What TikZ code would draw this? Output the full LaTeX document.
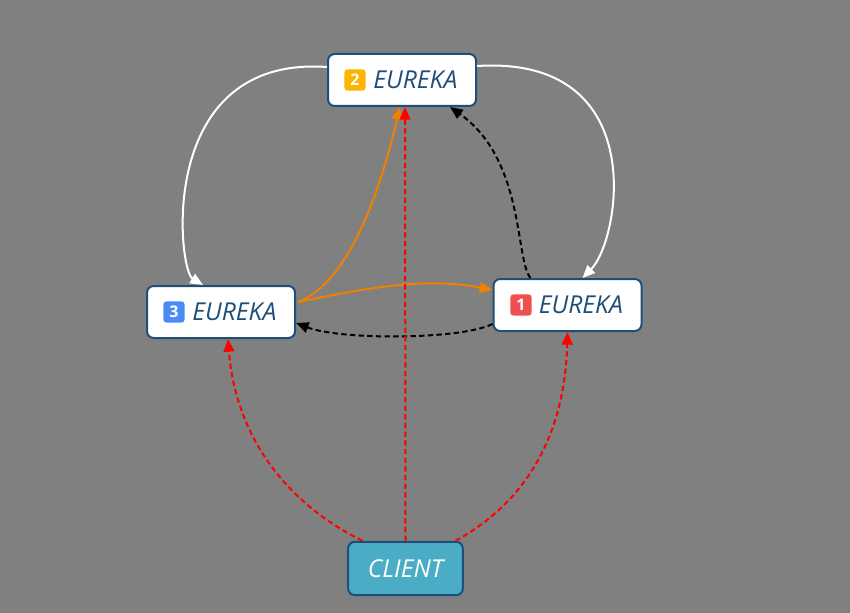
\documentclass[tikz,border=0pt]{standalone}
\usepackage{fontspec}
\setmainfont{Open Sans}
\usetikzlibrary{arrows.meta,calc}
\definecolor{bg}{HTML}{808080}
\definecolor{edge}{HTML}{1F4E79}
\definecolor{clientfill}{HTML}{4BACC6}
\definecolor{bOrange}{HTML}{FFB400}
\definecolor{bBlue}{HTML}{4B8BF5}
\definecolor{bRed}{HTML}{EE5050}
\definecolor{orangeline}{HTML}{F08000}
\tikzset{
  srv/.style={draw=edge, line width=1.5pt, fill=white, rounded corners=5pt,
    minimum width=111pt, minimum height=39pt, inner sep=0pt,
    font=\fontsize{18.5}{20}\selectfont\itshape, text=edge},
  cli/.style={srv, fill=clientfill, minimum width=86pt, minimum height=40pt, text=white},
  badge/.style={fill=#1, rounded corners=2.5pt, minimum size=16pt, inner sep=0pt,
    font=\fontsize{12}{12}\selectfont\bfseries, text=white},
  tip/.style={-{Triangle[length=9.5pt,width=8pt]}},
  wline/.style={tip, white, line width=1.5pt},
  oline/.style={tip, orangeline, line width=1.5pt},
  kline/.style={tip, black, line width=1.5pt, dash pattern=on 4pt off 2.5pt},
  rline/.style={tip, red, line width=1.5pt, dash pattern=on 4pt off 2.5pt},
}
\begin{document}
\begin{tikzpicture}[x=0.75pt,y=-0.75pt]
\fill[bg] (0,0) rectangle (850,613);
\useasboundingbox (0,0) rectangle (850,613);

\node[srv] (e2) at (402,80) {\hspace{20pt}EUREKA};
\node[srv] (e3) at (221,312) {\hspace{20pt}EUREKA};
\node[srv] (e1) at (567.5,305) {\hspace{20pt}EUREKA};
\node[cli] (client) at (405.5,568.5) {CLIENT};
\node[badge=bOrange] (b2) at ($(e2.center)+(-47,0)$) {2};
\node[badge=bBlue] (b3) at ($(e3.center)+(-47,0)$) {3};
\node[badge=bRed] (b1) at ($(e1.center)+(-46.5,0)$) {1};

% white
\draw[wline] ($(e2.west)+(0,-13)$) .. controls (155,55) and (178,270) .. ($(e3.north)+(-18,0)$);
\draw[wline] ($(e2.east)+(0,-14)$) .. controls (652,55) and (620,240) .. ($(e1.north)+(15,0)$);
% orange
\draw[oline] ($(e3.east)+(2,-10)$) .. controls (355,280) and (385,170) .. ($(e2.south)+(-2,0)$);
\draw[oline] ($(e3.east)+(2,-10)$) .. controls (380,285) and (430,278) .. ($(e1.west)+(0,-15)$);
% black dashed
\draw[kline] ($(e1.north)+(-37,0)$) .. controls (515,260) and (525,160) .. ($(e2.south)+(48,0)$);
\draw[kline] ($(e1.west)+(0,19)$) .. controls (460,340) and (340,340) .. ($(e3.east)+(0,11)$);
% red dashed
\draw[rline] (client.north) -- ($(e2.south)+(3,0)$);
\draw[rline] ($(client.north)+(-43,0)$) .. controls (280,500) and (235,430) .. ($(e3.south)+(7,0)$);
\draw[rline] ($(client.north)+(50,0)$) .. controls (530,500) and (565,430) .. (e1.south);
\end{tikzpicture}
\end{document}
